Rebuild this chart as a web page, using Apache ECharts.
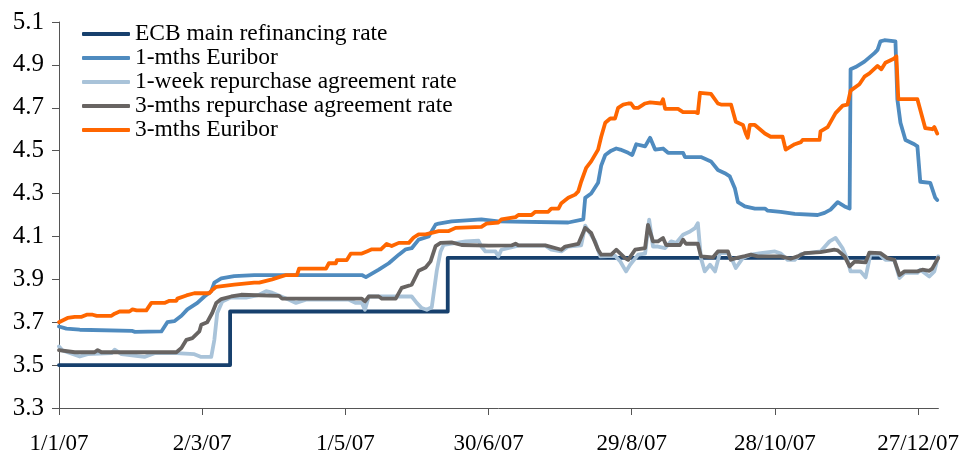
<!DOCTYPE html>
<html><head><meta charset="utf-8">
<script src="https://cdn.jsdelivr.net/npm/echarts@6/dist/echarts.min.js"></script>
<style>html,body{margin:0;padding:0;background:#fff}#c{width:962px;height:455px}</style>
</head><body><div id="c"></div>
<script>
// x values are days since 1 Jan 2007
const seriesNames = ['ECB main refinancing rate','1-mths Euribor','1-week repurchase agreement rate','3-mths repurchase agreement rate','3-mths Euribor'];
const xTickDays = [0,60,120,180,240,300,360];
const xTickLabels = ['1/1/07','2/3/07','1/5/07','30/6/07','29/8/07','28/10/07','27/12/07'];
const yTicks = [3.3,3.5,3.7,3.9,4.1,4.3,4.5,4.7,4.9,5.1];

const ecbDays = [0,71.7,162.9,368.4];
const ecbValues = [3.5,3.75,4.0,4.0];

const eur1mDays = [0,3.1,8.7,30.5,31.8,42.9,45.4,48.3,51.3,53.8,58.0,60.9,63.8,65.1,68.0,73.4,81.8,126.9,128.6,134.0,138.2,142.4,145.3,147.8,150.7,154.9,157.8,159.1,164.5,177.0,184.1,213.4,219.7,220.5,223.0,225.9,227.2,228.9,231.4,233.5,235.2,238.5,240.2,241.9,245.6,247.7,249.8,253.1,255.2,261.5,262.3,269.0,273.2,276.1,279.0,281.1,283.2,284.5,287.4,291.6,295.8,297.0,302.4,308.3,317.9,320.8,323.3,326.3,329.2,331.3,331.7,333.8,337.5,341.7,343.0,344.2,345.9,350.5,351.3,352.6,354.7,358.4,359.7,360.9,365.1,367.2,368.0];
const eur1mValues = [3.68,3.67,3.665,3.66,3.655,3.657,3.70,3.705,3.73,3.76,3.79,3.82,3.845,3.885,3.905,3.915,3.92,3.92,3.91,3.945,3.975,4.015,4.04,4.045,4.085,4.10,4.155,4.16,4.17,4.18,4.17,4.165,4.18,4.28,4.30,4.35,4.43,4.48,4.50,4.51,4.505,4.49,4.48,4.53,4.52,4.56,4.505,4.51,4.49,4.49,4.47,4.47,4.45,4.41,4.395,4.38,4.325,4.26,4.24,4.23,4.23,4.22,4.215,4.205,4.20,4.21,4.225,4.26,4.24,4.23,4.88,4.89,4.915,4.955,4.97,5.01,5.015,5.01,4.74,4.63,4.55,4.53,4.52,4.355,4.35,4.28,4.27];

const repo1wDays = [0,1.5,8.7,12.0,22.0,23.3,26.2,35.8,40.0,49.2,56.7,59.6,63.8,65.1,66.3,68.4,72.2,78.4,83.9,86.8,89.3,96.4,99.3,103.5,121.5,124.4,126.9,128.2,129.8,147.8,149.9,152.0,154.1,156.2,158.3,159.9,161.2,170.4,175.8,177.0,178.7,182.9,184.1,185.4,192.5,203.8,206.3,210.5,213.4,218.8,220.5,224.7,226.8,233.0,235.2,237.6,239.3,242.7,245.6,247.3,248.9,251.0,254.0,256.5,258.6,261.5,264.4,266.5,267.7,269.0,270.6,272.8,274.9,276.9,280.3,282.4,283.6,286.5,290.0,294.1,300.0,302.5,305.3,308.3,310.9,319.1,322.9,325.4,328.3,330.4,331.7,335.9,338.0,340.0,343.8,346.3,350.0,352.2,354.3,359.7,360.9,364.7,366.8,368.4];
const repo1wValues = [3.587,3.568,3.54,3.551,3.556,3.572,3.551,3.538,3.556,3.556,3.551,3.538,3.538,3.618,3.743,3.797,3.816,3.815,3.828,3.845,3.838,3.805,3.79,3.805,3.805,3.79,3.79,3.758,3.82,3.82,3.79,3.766,3.758,3.77,3.94,4.03,4.061,4.077,4.08,4.053,4.03,4.03,4.007,4.038,4.057,4.057,4.038,4.03,4.053,4.058,4.15,4.077,4.007,4.01,3.983,3.937,3.968,4.015,4.02,4.178,4.053,4.053,4.046,4.077,4.07,4.108,4.123,4.139,4.162,3.999,3.937,3.968,3.937,4.022,4.022,3.983,3.953,3.999,4.015,4.022,4.03,4.02,3.991,3.991,4.018,4.03,4.077,4.093,4.046,3.991,3.937,3.937,3.909,4.015,4.015,3.991,3.991,3.906,3.93,3.93,3.945,3.913,3.937,4.007];

const repo3mDays = [0,6.6,14.9,16.2,17.8,49.2,51.3,53.4,55.9,58.8,59.6,62.1,64.2,65.9,68.0,72.2,76.3,92.2,93.5,126.9,128.2,129.8,134.0,135.3,141.1,143.6,147.8,150.7,153.6,155.7,157.8,159.9,164.5,168.7,180.0,189.6,191.3,192.5,203.8,210.5,212.1,217.6,220.5,223.0,225.9,227.2,231.4,233.5,237.2,238.5,241.4,245.6,246.8,248.9,251.0,253.1,254.4,260.2,261.5,262.7,267.7,269.0,274.0,276.1,280.3,281.5,283.6,287.4,289.9,292.8,302.4,306.6,309.5,312.4,319.1,325.0,326.3,329.2,331.3,333.4,338.0,339.6,344.2,347.1,350.0,352.2,354.3,359.7,361.8,364.7,365.9,368.4];
const repo3mValues = [3.57,3.56,3.56,3.57,3.56,3.56,3.58,3.618,3.626,3.657,3.688,3.70,3.743,3.79,3.808,3.82,3.828,3.823,3.81,3.81,3.797,3.82,3.82,3.81,3.81,3.86,3.875,3.94,3.955,3.984,4.055,4.07,4.072,4.06,4.057,4.058,4.066,4.058,4.058,4.038,4.053,4.065,4.14,4.116,4.038,4.015,4.015,4.038,3.999,3.991,4.038,4.046,4.154,4.077,4.077,4.093,4.06,4.06,4.085,4.066,4.066,4.007,4.002,4.03,4.03,3.991,3.999,4.008,4.015,4.007,4.007,3.996,4.007,4.022,4.027,4.038,4.035,4.007,3.96,3.983,3.979,4.025,4.022,3.999,3.991,3.92,3.937,3.937,3.945,3.94,3.95,4.0];

const eur3mDays = [0,3.6,6.6,9.5,11.6,14.1,15.8,22.0,23.3,25.4,29.5,30.8,32.5,36.6,38.7,44.2,46.3,49.2,49.6,53.4,56.7,63.0,64.2,65.9,73.4,81.8,83.9,89.3,92.2,95.2,99.7,100.6,111.9,113.1,116.0,116.5,120.6,122.3,126.9,129.0,131.1,134.9,137.3,139.4,142.4,146.6,148.6,150.7,153.6,159.1,163.3,166.2,177.0,179.1,184.1,185.4,191.3,192.5,198.0,199.6,205.0,206.3,209.3,210.5,213.4,216.3,217.6,218.8,220.9,223.0,225.9,227.2,228.9,231.0,233.0,234.3,236.4,238.5,239.7,241.0,242.7,245.6,247.7,252.3,253.1,254.0,259.4,261.5,266.5,267.7,268.6,273.2,276.1,277.4,281.6,283.6,286.6,287.8,288.6,289.5,291.6,295.8,298.2,303.2,304.5,308.3,310.9,311.6,318.7,319.1,322.1,325.4,328.4,330.4,331.7,335.4,337.5,339.6,343.0,344.6,346.3,350.0,350.9,351.7,359.7,363.0,366.0,366.8,368.0];
const eur3mValues = [3.70,3.72,3.725,3.725,3.735,3.735,3.73,3.73,3.74,3.75,3.75,3.76,3.755,3.755,3.79,3.79,3.80,3.80,3.81,3.825,3.835,3.835,3.85,3.865,3.875,3.885,3.885,3.90,3.91,3.92,3.92,3.95,3.95,3.975,3.975,3.99,3.99,4.02,4.02,4.03,4.04,4.04,4.065,4.055,4.07,4.07,4.095,4.11,4.11,4.125,4.125,4.14,4.145,4.16,4.165,4.18,4.19,4.20,4.20,4.215,4.215,4.23,4.23,4.255,4.28,4.295,4.31,4.355,4.42,4.45,4.505,4.565,4.63,4.65,4.65,4.70,4.715,4.72,4.72,4.70,4.70,4.72,4.725,4.72,4.74,4.695,4.695,4.68,4.68,4.675,4.77,4.765,4.72,4.715,4.715,4.635,4.62,4.58,4.56,4.62,4.62,4.58,4.565,4.565,4.505,4.53,4.54,4.55,4.55,4.59,4.61,4.675,4.71,4.715,4.78,4.81,4.845,4.86,4.895,4.88,4.91,4.93,4.94,4.74,4.74,4.605,4.60,4.61,4.58];

const colors = ['#17406d','#4f8bbf','#a9c3d9','#686462','#ff6600'];
const zip = (a,b) => a.map((d,i)=>[d,b[i]]);

const FONT = 'Liberation Serif';
const chart = echarts.init(document.getElementById('c'), null, {renderer:'canvas'});
const mk = (i, days, vals, extra) => Object.assign({
  name: seriesNames[i], type:'line', data: zip(days, vals), showSymbol:false, symbol:'none',
  lineStyle:{color:colors[i], width:3.8, join:'round', cap:'round'}, itemStyle:{color:colors[i]},
  animation:false, z: 2+i
}, extra||{});

chart.setOption({
  animation:false,
  color: colors,
  grid:{left:59, right:21, top:22, bottom:47, containLabel:false},
  legend:{
    orient:'vertical', left:77, top:17, itemGap:0, itemWidth:48, itemHeight:4,
    icon:'roundRect',
    textStyle:{fontFamily:FONT, fontSize:23.5, color:'#000', lineHeight:23.3},
    data: seriesNames
  },
  xAxis:{
    type:'value', min:0, max:368.5,
    axisLine:{show:true, lineStyle:{color:'#555', width:1}},
    axisTick:{show:true, customValues:xTickDays, length:7, lineStyle:{color:'#555'}},
    axisLabel:{customValues:xTickDays, fontFamily:FONT, fontSize:23, color:'#000', margin:24,
      formatter:(v)=>{const i=xTickDays.indexOf(v); return i>=0?xTickLabels[i]:'';}},
    splitLine:{show:false}
  },
  yAxis:{
    type:'value', min:3.3, max:5.1,
    axisLine:{show:true, lineStyle:{color:'#555', width:1}},
    axisTick:{show:true, customValues:yTicks, length:7, lineStyle:{color:'#555'}},
    axisLabel:{customValues:yTicks, fontFamily:FONT, fontSize:25, color:'#000', margin:15,
      formatter:(v)=>v.toFixed(1)},
    splitLine:{show:false}
  },
  series:[
    mk(0, ecbDays, ecbValues, {step:'end'}),
    mk(1, eur1mDays, eur1mValues),
    mk(2, repo1wDays, repo1wValues),
    mk(3, repo3mDays, repo3mValues),
    mk(4, eur3mDays, eur3mValues)
  ]
});
</script></body></html>
